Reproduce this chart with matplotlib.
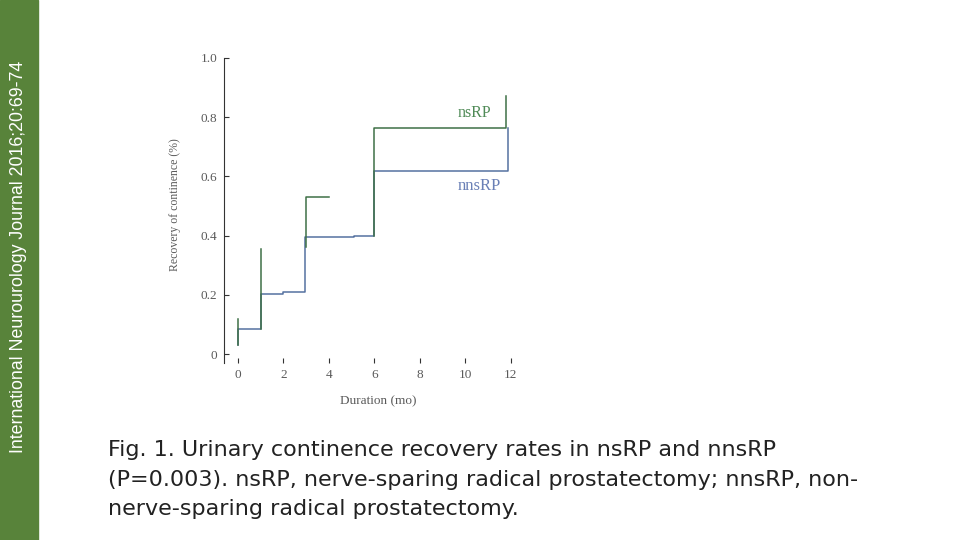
import numpy as np
import matplotlib
matplotlib.use("Agg")
import matplotlib.pyplot as plt
from matplotlib.patches import Rectangle

# step curves (months, recovery fraction); NaN breaks a line
ns_x = [0, 0, np.nan, 1, 1, np.nan, 3, 3, 4, np.nan, 6, 6, 11.8, 11.8]
ns_y = [0.03, 0.118, np.nan, 0.085, 0.355, np.nan, 0.36, 0.53, 0.53, np.nan,
        0.40, 0.762, 0.762, 0.87]
nns_x = [0, 0, 1, 1, 2, 2, 2.95, 2.95, 5.1, 5.1, 6, 6, 11.9, 11.9]
nns_y = [0.03, 0.085, 0.085, 0.203, 0.203, 0.21, 0.21, 0.395, 0.395, 0.40,
         0.40, 0.617, 0.617, 0.762]

xticks = [0, 2, 4, 6, 8, 10, 12]
yticks = [0, 0.2, 0.4, 0.6, 0.8, 1.0]
ytick_labels = ["0", "0.2", "0.4", "0.6", "0.8", "1.0"]

caption = ["Fig. 1. Urinary continence recovery rates in nsRP and nnsRP",
           "(P=0.003). nsRP, nerve-sparing radical prostatectomy; nnsRP, non-",
           "nerve-sparing radical prostatectomy."]
journal = "International Neurourology Journal 2016;20:69-74"

GREEN = "#3e7046"
BLUE = "#5571a0"
GREY = "#5a5a5a"
SERIF = ["Liberation Serif", "DejaVu Serif"]

fig = plt.figure(figsize=(9.6, 5.4), dpi=100)

# journal side band
fig.patches.append(Rectangle((0, 0), 38 / 960, 1, transform=fig.transFigure,
                             color="#58833a", zorder=0))
fig.text(19 / 960, 1 - 257 / 540, journal, rotation=90, ha="center", va="center",
         color="white", fontsize=12.8, family=["Liberation Sans", "DejaVu Sans"])

ax = fig.add_axes([224 / 960, 177 / 540, 298 / 960, 305 / 540])
ax.plot(nns_x, nns_y, color=BLUE, lw=1.1)
ax.plot(ns_x, ns_y, color=GREEN, lw=1.1)
ax.set_xlim(-0.615, 12.5)
ax.set_ylim(-0.0304, 1.0)

for s in ["top", "right", "bottom"]:
    ax.spines[s].set_visible(False)
ax.spines["left"].set_color("#333333")
ax.spines["left"].set_linewidth(0.8)

ax.set_xticks(xticks)
ax.set_yticks(yticks, ytick_labels)
ax.tick_params(axis="both", direction="in", length=3.6, width=0.8,
               color="#333333", labelcolor=GREY, labelsize=9.5)
ax.tick_params(axis="y", pad=5)
ax.tick_params(axis="x", pad=4)
for lab in ax.get_xticklabels() + ax.get_yticklabels():
    lab.set_family(SERIF)

ax.set_xlabel("Duration (mo)", fontsize=9.5, color=GREY, family=SERIF)
ax.set_ylabel("Recovery of continence (%)", fontsize=8.5, color=GREY, family=SERIF)
ax.xaxis.set_label_coords(0.517, -0.105)
ax.yaxis.set_label_coords(-0.144, 0.518)

ax.text(10.42, 0.814, "nsRP", color="#4f8a56", fontsize=11.5, family=SERIF,
        ha="center", va="center")
ax.text(10.6, 0.568, "nnsRP", color="#6a80b6", fontsize=12, family=SERIF,
        ha="center", va="center")

for line, yb in zip(caption, [456, 486, 515]):
    fig.text(108 / 960, 1 - yb / 540, line, ha="left", va="baseline",
             fontsize=16, color="#222222", family=["DejaVu Sans"])

fig.savefig("out.png", dpi=100)
